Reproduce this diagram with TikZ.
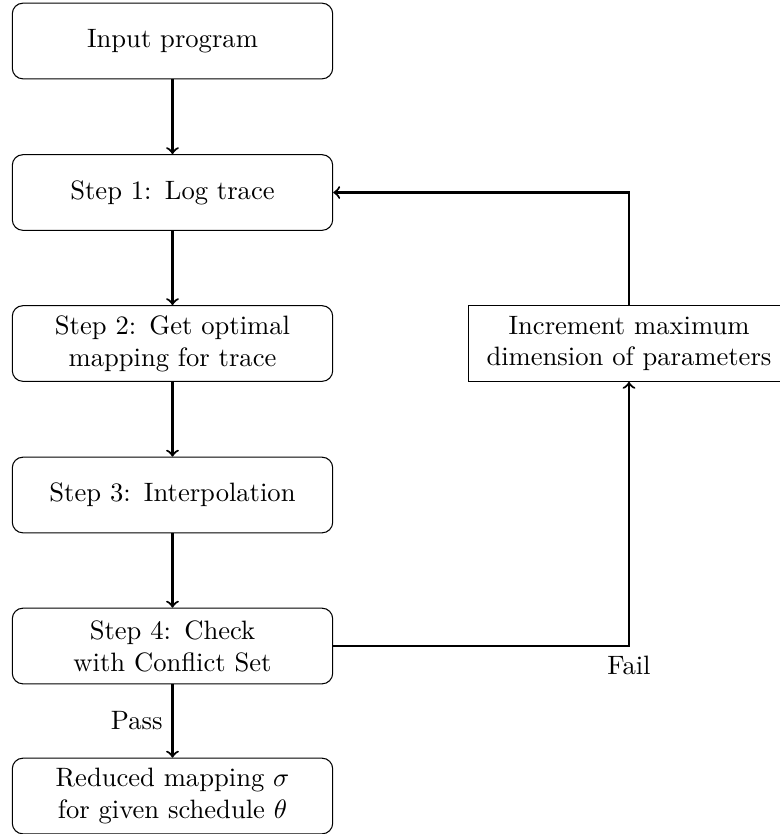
\documentclass[tikz,border=0pt]{standalone}
\begin{document}
\begin{tikzpicture}[x=0.376pt,y=-0.376pt,
  box/.style={draw, rounded corners=4pt, text width=4cm, minimum height=1cm, align=center},
  plainbox/.style={draw, text width=4cm, minimum height=1cm, align=center},
  arr/.style={->, thick}]
\useasboundingbox (0,0) rectangle (779,834);
\node[box] (in) at (172.5,41) {Input program};
\node[box] (s1) at (172.5,192.5) {Step 1: Log trace};
\node[box] (s2) at (172.5,343.5) {Step 2: Get optimal\\ mapping for trace};
\node[box] (s3) at (172.5,495) {Step 3: Interpolation};
\node[box] (s4) at (172.5,646) {Step 4: Check\\ with Conflict Set};
\node[box] (out) at (172.5,796) {Reduced mapping $\sigma$\\ for given schedule $\theta$};
\node[plainbox] (inc) at (629,343.5) {Increment maximum\\ dimension of parameters};
\draw[arr] (in) -- (s1);
\draw[arr] (s1) -- (s2);
\draw[arr] (s2) -- (s3);
\draw[arr] (s3) -- (s4);
\draw[arr] (s4) -- node[left] (pass) {Pass} (out);
\draw[arr] (s4.east) -| node[pos=0.5, below] (fail) {Fail} (inc.south);
\draw[arr] (inc.north) |- (s1.east);
\end{tikzpicture}
\end{document}
